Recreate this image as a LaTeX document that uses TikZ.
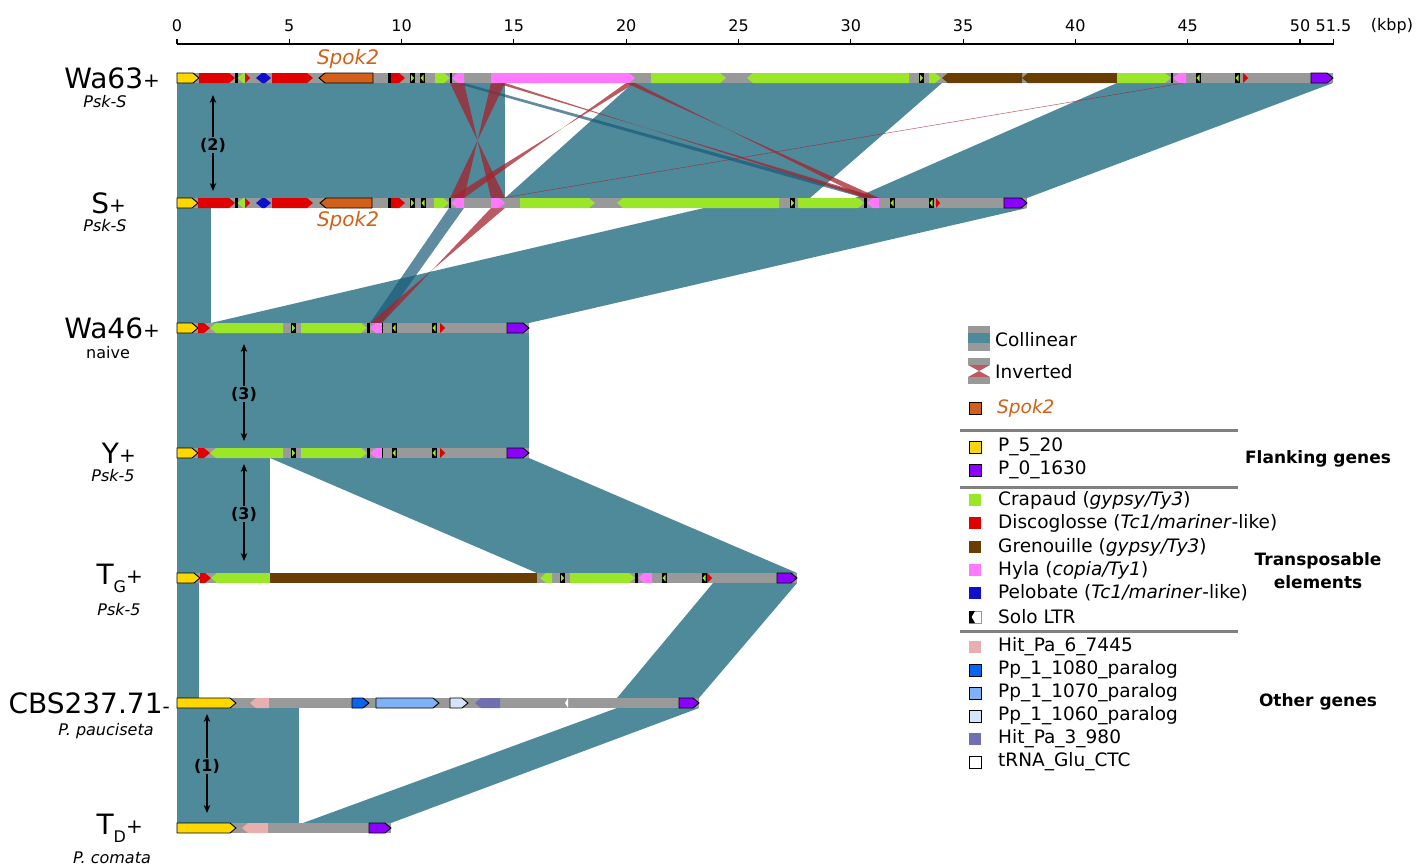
\documentclass[tikz,border=0pt]{standalone}
\usepackage{fontspec}
\setmainfont{DejaVu Sans}
\usetikzlibrary{arrows.meta}
\definecolor{teal1}{RGB}{79,138,155}
\definecolor{barg}{RGB}{153,153,153}
\definecolor{yel}{RGB}{255,215,0}
\definecolor{pur}{RGB}{140,0,255}
\definecolor{grn}{RGB}{155,230,40}
\definecolor{red1}{RGB}{225,0,0}
\definecolor{brn}{RGB}{105,62,5}
\definecolor{pnk}{RGB}{255,120,255}
\definecolor{blu}{RGB}{15,15,205}
\definecolor{spk}{RGB}{210,96,26}
\definecolor{hit6}{RGB}{232,175,175}
\definecolor{pp80}{RGB}{10,100,240}
\definecolor{pp70}{RGB}{127,178,245}
\definecolor{pp60}{RGB}{213,228,250}
\definecolor{hit3}{RGB}{112,112,176}
\definecolor{invr}{RGB}{165,35,45}
\definecolor{dkt}{RGB}{25,90,120}
\definecolor{sepg}{RGB}{128,128,128}
% feature shapes
\newcommand\fR[4]{\path[#4] (#2,#1-5) -- ({max(#2,#3-6)},#1-5) -- (#3,#1) -- ({max(#2,#3-6)},#1+5) -- (#2,#1+5) -- cycle;}
\newcommand\fL[4]{\path[#4] (#3,#1-5) -- ({min(#3,#2+6)},#1-5) -- (#2,#1) -- ({min(#3,#2+6)},#1+5) -- (#3,#1+5) -- cycle;}
\newcommand\fB[4]{\path[#4] (#2,#1-5) rectangle (#3,#1+5);}
\newcommand\ltrR[2]{\fill[black] (#2,#1-5) rectangle (#2+4.5,#1+5); \fill[grn] (#2+1,#1-3.5) -- (#2+4,#1) -- (#2+1,#1+3.5) -- cycle;}
\newcommand\ltrL[2]{\fill[black] (#2,#1-5) rectangle (#2+4.5,#1+5); \fill[grn] (#2+3.5,#1-3.5) -- (#2+0.5,#1) -- (#2+3.5,#1+3.5) -- cycle;}
\newcommand\trackbar[2]{\fill[barg] (177,#1-5) rectangle (#2,#1+5);}
% synteny bands
\newcommand\band[7]{\path[#7] (#2,#1) -- (#3,#1) -- (#6,#4) -- (#5,#4) -- cycle;}
\newcommand\iband[7]{\path[#7] (#2,#1) -- (#3,#1) -- (#5,#4) -- (#6,#4) -- cycle;}
\newcommand\plus{{\fontsize{20}{20}\selectfont\raisebox{0.05em}{+}}}

\begin{document}
\begin{tikzpicture}[x=1pt,y=-1pt,
  tealf/.style={fill=teal1},
  invf/.style={fill=invr,fill opacity=0.75},
  dlkf/.style={fill=dkt,fill opacity=0.7},
  bordf/.style={draw=black,line width=0.9pt},
  axlab/.style={font=\fontsize{16}{18}\selectfont,inner sep=0},
  tname/.style={font=\fontsize{28}{30}\selectfont,inner sep=0},
  sname/.style={font=\fontsize{16}{18}\selectfont\itshape,inner sep=0},
  legt/.style={font=\fontsize{18.5}{20}\selectfont,anchor=west,inner sep=0},
  grpt/.style={font=\fontsize{17}{23}\selectfont\bfseries,align=center,inner sep=0},
  numl/.style={font=\fontsize{16}{18}\selectfont\bfseries,inner sep=1pt},
  dbl/.style={-{Stealth[length=8pt,width=6.5pt]},line width=1.2pt},
  spkt/.style={font=\fontsize{20}{22}\selectfont\itshape,text=spk,inner sep=0}]
\useasboundingbox (0,0) rectangle (1426,867);

% ---------- axis ----------
\draw[line width=1.1pt] (177,44) -- (1333.5,44);
\foreach \k in {0,5,...,50} {
  \draw[line width=1.1pt] ({177+22.46*\k},44) -- ({177+22.46*\k},39);
  \node[axlab] (ax\k) at ({177+22.46*\k},26) {\k};
}
\draw[line width=1.1pt] (1333.5,44) -- (1333.5,39);
\node[axlab] (axend) at (1333.5,26) {51.5};
\node[axlab] (kbp) at (1392,26) {(kbp)};

% ---------- collinear blocks ----------
\band{83}{177}{505}{198}{177}{505}{tealf}
\band{83}{633}{942}{198}{505}{810}{tealf}
\band{83}{1117}{1333}{198}{855}{1027}{tealf}
\band{208}{177}{211}{323}{177}{211}{tealf}
\band{208}{704}{1027}{323}{211}{529}{tealf}
\band{333}{177}{529}{448}{177}{529}{tealf}
\band{458}{177}{270}{573}{177}{270}{tealf}
\band{458}{270}{529}{573}{537}{797}{tealf}
\band{583}{177}{199}{698}{177}{199}{tealf}
\band{583}{713}{797}{698}{617}{699}{tealf}
\band{708}{177}{299}{823}{177}{299}{tealf}
\band{708}{617}{699}{823}{303}{391}{tealf}

% ---------- Hyla links ----------
\band{83}{455}{464}{198}{864}{878}{dlkf}
\iband{83}{450}{464}{198}{491}{505}{invf}
\iband{83}{491}{505}{198}{450}{464}{invf}
\iband{83}{626}{635}{198}{450}{464}{invf}
\iband{83}{626}{635}{198}{865}{879}{invf}
\iband{83}{496}{505}{198}{865}{879}{invf}
\band{83}{1182}{1185}{198}{501}{504}{invf}
\band{208}{449}{464}{323}{370}{382}{dlkf}
\iband{208}{491}{505}{323}{370}{382}{invf}

% ---------- Wa63 ----------
\trackbar{78}{1333}
\fR{78}{177}{199}{fill=yel,bordf}
\fR{78}{199}{235}{fill=red1}
\fB{78}{235}{237.5}{fill=black}
\fL{78}{237.5}{245}{fill=grn}
\fR{78}{245}{250}{fill=red1}
\fL{78}{256}{263}{fill=blu}
\fR{78}{263}{271}{fill=blu}
\fR{78}{272}{313}{fill=red1}
\fL{78}{319}{373}{fill=spk,bordf}
\fB{78}{388}{391}{fill=black}
\fR{78}{391}{405}{fill=red1}
\ltrR{78}{410}
\ltrL{78}{420}
\fR{78}{435}{450}{fill=grn}
\fB{78}{450}{452}{fill=black}
\fL{78}{452}{464}{fill=pnk}
\fR{78}{491}{635}{fill=pnk}
\fR{78}{651}{726}{fill=grn}
\fL{78}{747}{909}{fill=grn}
\ltrR{78}{919}
\fR{78}{929}{941}{fill=grn}
\fL{78}{942}{1022}{fill=brn}
\fL{78}{1022}{1117}{fill=brn}
\fR{78}{1117}{1171}{fill=grn}
\fB{78}{1171}{1173}{fill=black}
\fL{78}{1173}{1186}{fill=pnk}
\ltrL{78}{1196}
\ltrL{78}{1235}
\fR{78}{1243}{1248}{fill=red1}
\fR{78}{1311}{1333}{fill=pur,bordf}

% ---------- S ----------
\trackbar{203}{1027}
\fR{203}{177}{198}{fill=yel,bordf}
\fR{203}{198}{235}{fill=red1}
\fB{203}{235}{237.5}{fill=black}
\fL{203}{237.5}{245}{fill=grn}
\fR{203}{245}{250}{fill=red1}
\fL{203}{256}{263}{fill=blu}
\fR{203}{263}{271}{fill=blu}
\fR{203}{272}{313}{fill=red1}
\fL{203}{320}{372}{fill=spk,bordf}
\fB{203}{388}{391}{fill=black}
\fR{203}{391}{405}{fill=red1}
\ltrR{203}{410}
\ltrL{203}{421}
\fR{203}{434}{449}{fill=grn}
\fB{203}{449}{451}{fill=black}
\fL{203}{451}{464}{fill=pnk}
\fR{203}{491}{505}{fill=pnk}
\fR{203}{520}{595}{fill=grn}
\fL{203}{617}{779}{fill=grn}
\ltrR{203}{790}
\fR{203}{798}{864}{fill=grn}
\fB{203}{864}{867}{fill=black}
\fL{203}{867}{879}{fill=pnk}
\ltrL{203}{890}
\ltrL{203}{929}
\fR{203}{936}{940}{fill=red1}
\fR{203}{1004}{1027}{fill=pur,bordf}

% ---------- Wa46 and Y ----------
\foreach \yy in {328,453} {
\trackbar{\yy}{529}
\fR{\yy}{177}{198}{fill=yel,bordf}
\fR{\yy}{198}{210}{fill=red1}
\fL{\yy}{210}{283}{fill=grn}
\ltrR{\yy}{291}
\fR{\yy}{301}{367}{fill=grn}
\fB{\yy}{367}{370}{fill=black}
\fL{\yy}{370}{382}{fill=pnk}
\fB{\yy}{382}{383}{fill=black}
\ltrL{\yy}{392}
\ltrL{\yy}{432}
\fR{\yy}{440}{445}{fill=red1}
\fR{\yy}{507}{529}{fill=pur,bordf}
}

% ---------- T_G ----------
\trackbar{578}{797}
\fR{578}{177}{200}{fill=yel,bordf}
\fR{578}{200}{211}{fill=red1}
\fL{578}{211}{270}{fill=grn}
\fB{578}{270}{537}{fill=brn}
\fL{578}{540}{552}{fill=grn}
\ltrR{578}{560}
\fR{578}{570}{635}{fill=grn}
\fB{578}{635}{638}{fill=black}
\fL{578}{638}{652}{fill=pnk}
\ltrL{578}{662}
\ltrL{578}{702}
\fR{578}{707}{712}{fill=red1}
\fR{578}{777}{797}{fill=pur,bordf}

% ---------- CBS237.71 ----------
\trackbar{703}{699}
\fR{703}{177}{236}{fill=yel,bordf}
\fL{703}{250}{269}{fill=hit6}
\fR{703}{352}{369}{fill=pp80,bordf}
\fR{703}{376}{439}{fill=pp70,bordf}
\fR{703}{450}{468}{fill=pp60,bordf}
\fL{703}{475}{500}{fill=hit3}
\fL{703}{565}{568}{fill=white}
\fR{703}{679}{699}{fill=pur,bordf}

% ---------- T_D ----------
\trackbar{828}{391}
\fR{828}{177}{236}{fill=yel,bordf}
\fL{828}{242}{268}{fill=hit6}
\fR{828}{369}{391}{fill=pur,bordf}

% ---------- Spok2 labels ----------
\node[spkt] (spkA) at (348,59) {Spok2};
\node[spkt] (spkB) at (348,221) {Spok2};

% ---------- track names ----------
\node[tname,anchor=east] (nWa63) at (160,78) {Wa63\plus};
\node[sname] (sWa63) at (105,102) {Psk-S};
\node[tname,anchor=east] (nS) at (126,203) {S\plus};
\node[sname] (sS) at (105,226) {Psk-S};
\node[tname,anchor=east] (nWa46) at (160,328) {Wa46\plus};
\node[font=\fontsize{16}{18}\selectfont,inner sep=0] (sWa46) at (108,353) {naive};
\node[tname,anchor=east] (nY) at (136,453) {Y\plus};
\node[sname] (sY) at (113,476) {Psk-5};
\node[tname,anchor=east] (nTG) at (143,578) {T\raisebox{-0.28em}{\fontsize{16}{16}\selectfont G}\plus};
\node[sname] (sTG) at (119,610) {Psk-5};
\node[tname,anchor=east] (nCBS) at (170,703) {CBS237.71{\fontsize{20}{20}\selectfont-}};
\node[sname] (sCBS) at (106,731) {P. pauciseta};
\node[tname,anchor=east] (nTD) at (143,828) {T\raisebox{-0.28em}{\fontsize{16}{16}\selectfont D}\plus};
\node[sname] (sTD) at (112,858) {P. comata};

% ---------- distance arrows ----------
\node[numl] (d2) at (213,145) {(2)};
\coordinate (d2t) at (213,95); \coordinate (d2b) at (213,191);
\draw[dbl] (d2.north) -- (d2t); \draw[dbl] (d2.south) -- (d2b);
\node[numl] (d3a) at (244,394) {(3)};
\coordinate (d3at) at (244,344); \coordinate (d3ab) at (244,441);
\draw[dbl] (d3a.north) -- (d3at); \draw[dbl] (d3a.south) -- (d3ab);
\node[numl] (d3b) at (244,514) {(3)};
\coordinate (d3bt) at (244,464); \coordinate (d3bb) at (244,561);
\draw[dbl] (d3b.north) -- (d3bt); \draw[dbl] (d3b.south) -- (d3bb);
\node[numl] (d1) at (207,766) {(1)};
\coordinate (d1t) at (207,714); \coordinate (d1b) at (207,813);
\draw[dbl] (d1.north) -- (d1t); \draw[dbl] (d1.south) -- (d1b);

% ---------- legend ----------
\fill[barg] (968,326) rectangle (990,333);
\fill[teal1] (968,333) rectangle (990,343);
\fill[barg] (968,343) rectangle (990,351);
\node[legt] (lCol) at (995,340) {Collinear};
\fill[barg] (968,358) rectangle (990,365);
\path[invf] (968,365) -- (990,365) -- (968,377) -- (990,377) -- cycle;
\fill[barg] (968,377) rectangle (990,384);
\node[legt] (lInv) at (995,372) {Inverted};
\path[fill=spk,bordf] (969,402) rectangle (981,414);
\node[legt,text=spk,font=\fontsize{18.5}{20}\selectfont\itshape] (lSpk) at (997,408) {Spok2};

\foreach \yy in {430,487,631} \draw[sepg,line width=3pt] (960,\yy) -- (1238,\yy);

\path[fill=yel,bordf] (969,441) rectangle (981,453);
\node[legt] (l520) at (998,447) {P\_5\_20};
\path[fill=pur,bordf] (969,464) rectangle (981,476);
\node[legt] (l1630) at (998,470) {P\_0\_1630};

\fill[grn] (969,494) rectangle (981,506);
\node[legt] (lCra) at (998,500) {Crapaud (\textit{gypsy/Ty3})};
\fill[red1] (969,517) rectangle (981,529);
\node[legt] (lDis) at (998,523) {Discoglosse (\textit{Tc1/mariner}-like)};
\fill[brn] (969,541) rectangle (981,553);
\node[legt] (lGre) at (998,547) {Grenouille (\textit{gypsy/Ty3})};
\fill[pnk] (969,564) rectangle (981,576);
\node[legt] (lHyl) at (998,570) {Hyla (\textit{copia/Ty1})};
\fill[blu] (969,587) rectangle (981,599);
\node[legt] (lPel) at (998,593) {Pelobate (\textit{Tc1/mariner}-like)};
\draw[fill=white,draw=barg,line width=0.8pt] (969,611) rectangle (981,623);
\fill[black] (969,611) -- (975,611) -- (971.5,617) -- (975,623) -- (969,623) -- cycle;
\node[legt] (lSolo) at (998,617) {Solo LTR};

\fill[hit6] (969,641) rectangle (981,653);
\node[legt] (lH6) at (998,647) {Hit\_Pa\_6\_7445};
\path[fill=pp80,bordf] (969,664) rectangle (981,676);
\node[legt] (lP80) at (998,670) {Pp\_1\_1080\_paralog};
\path[fill=pp70,bordf] (969,687) rectangle (981,699);
\node[legt] (lP70) at (998,693) {Pp\_1\_1070\_paralog};
\path[fill=pp60,bordf] (969,710) rectangle (981,722);
\node[legt] (lP60) at (998,716) {Pp\_1\_1060\_paralog};
\fill[hit3] (969,733) rectangle (981,745);
\node[legt] (lH3) at (998,739) {Hit\_Pa\_3\_980};
\path[fill=white,bordf] (969,756) rectangle (981,768);
\node[legt] (ltRNA) at (998,762) {tRNA\_Glu\_CTC};

\node[grpt] (gFl) at (1318,459) {Flanking genes};
\node[grpt] (gTE) at (1318,571) {Transposable\\elements};
\node[grpt] (gOt) at (1318,702) {Other genes};
\end{tikzpicture}
\end{document}
